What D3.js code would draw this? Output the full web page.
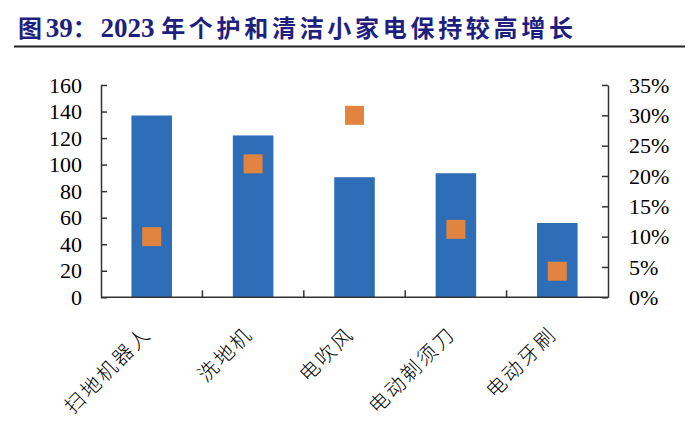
<!DOCTYPE html>
<html><head><meta charset="utf-8">
<script src="https://cdn.jsdelivr.net/npm/d3@7/dist/d3.min.js"></script>
<style>body{margin:0;background:#fff}svg{display:block}</style>
</head><body>
<svg id="c" width="700" height="426"></svg>
<script>
const categories = ["扫地机器人","洗地机","电吹风","电动剃须刀","电动牙刷"];
const sales = [137, 122, 90.5, 93.5, 56];
const growth = [0.10, 0.22, 0.30, 0.112, 0.043];
const leftTicks = [0,20,40,60,80,100,120,140,160];
const rightTicks = [0,0.05,0.10,0.15,0.20,0.25,0.30,0.35];

const svg = d3.select("#c");
const L = 101, R = 608, T = 85, B = 297.3;

// title
const title = svg.append("text").attr("x", 18).attr("y", 37)
  .attr("fill", "#1F1F80").attr("font-weight", "bold");
const parts = [["图","cjk"],["39","num"],["：","cjk"],["2023 ","num"],["年个护和清洁小家电保持较高增长","cjk"]];
parts.forEach(p => {
  title.append("tspan").text(p[0])
    .attr("font-family", p[1]==="cjk" ? "'Noto Sans CJK SC'" : "'Liberation Serif'")
    .attr("font-size", p[1]==="cjk" ? 24 : 27)
    .attr("letter-spacing", p[1]==="cjk" ? 3.7 : 0);
});
svg.append("line").attr("x1", 14).attr("x2", 685).attr("y1", 46.5).attr("y2", 46.5)
  .attr("stroke", "#222").attr("stroke-width", 2);

const x = d3.scaleBand().domain(categories).range([L, R]).paddingInner(0).paddingOuter(0);
const yL = d3.scaleLinear().domain([0,160]).range([B, T]);
const yR = d3.scaleLinear().domain([0,0.35]).range([B, T]);

// bars
const bw = x.bandwidth()*0.4;
svg.append("g").selectAll("rect").data(categories).join("rect")
  .attr("x", d => x(d) + x.bandwidth()/2 - bw/2)
  .attr("width", bw)
  .attr("y", (d,i) => yL(sales[i]))
  .attr("height", (d,i) => B - yL(sales[i]))
  .attr("fill", "#2E6EB8");

// markers
const ms = 19;
svg.append("g").selectAll("rect").data(categories).join("rect")
  .attr("x", d => x(d) + x.bandwidth()/2 - ms/2)
  .attr("y", (d,i) => yR(growth[i]) - ms/2)
  .attr("width", ms).attr("height", ms)
  .attr("fill", "#E0843F");

// axes
const axisColor = "#333";
const gl = svg.append("g").attr("transform", `translate(${L},0)`)
  .call(d3.axisLeft(yL).tickValues(leftTicks).tickSizeInner(-6).tickSizeOuter(0).tickPadding(19));
const gr = svg.append("g").attr("transform", `translate(${R},0)`)
  .call(d3.axisRight(yR).tickValues(rightTicks).tickFormat(d3.format(".0%")).tickSizeInner(-6).tickSizeOuter(0).tickPadding(21));
[gl, gr].forEach(g => {
  g.select(".domain").attr("stroke", axisColor).attr("stroke-width", 1.5);
  g.selectAll(".tick line").attr("stroke", axisColor).attr("stroke-width", 1.5);
  g.selectAll("text").attr("font-family", "'Liberation Serif'").attr("font-size", 22).attr("fill", "#000");
});

// bottom axis
svg.append("line").attr("x1", L).attr("x2", R).attr("y1", B).attr("y2", B)
  .attr("stroke", axisColor).attr("stroke-width", 1.5);
const bounds = categories.slice(1).map(c => x(c));
svg.append("g").selectAll("line").data(bounds).join("line")
  .attr("x1", d => d).attr("x2", d => d).attr("y1", B).attr("y2", B - 7)
  .attr("stroke", axisColor).attr("stroke-width", 1.5);

svg.append("g").selectAll("text").data(categories).join("text")
  .attr("transform", d => `translate(${x(d) + x.bandwidth()/2 - 4},${B + 33}) rotate(-45)`)
  .attr("text-anchor", "end").attr("dy", "0.35em")
  .attr("font-family", "'Noto Sans CJK SC'").attr("font-weight", 300)
  .attr("font-size", 20).attr("letter-spacing", 2.5).attr("fill", "#000")
  .text(d => d);
</script>
</body></html>
